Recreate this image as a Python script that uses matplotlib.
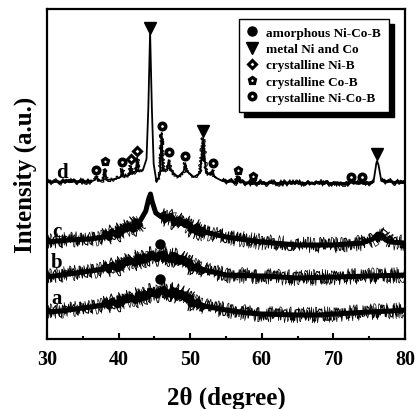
import matplotlib
matplotlib.use("Agg")
import matplotlib.pyplot as plt

# --- data (2theta in degree, intensity in a.u. with offsets) ---
a_x = [30, 32, 35, 38, 40, 42, 44, 46, 47.5, 49, 50, 52, 55, 58, 60, 65, 68, 70, 75, 78, 80]
a_y = [27, 28, 31, 34, 37, 40, 45, 47, 47, 43, 38, 33, 29, 26, 25, 24, 24, 25, 27, 28, 29]

b_x = [30, 35, 38, 40, 42, 44, 46, 48, 50, 52, 55, 60, 65, 70, 75, 80]
b_y = [62, 67, 70, 73, 78, 82, 83, 81, 74, 69, 64, 63, 61, 62, 63, 64]

c_x = [30, 33, 36, 38, 40, 42, 43, 43.8, 44.2, 44.45, 44.7, 45.2, 46, 47.5, 49, 50, 52, 55,
       60, 65, 70, 74, 75.5, 76.2, 76.8, 77.3, 78, 80]
c_y = [97, 99, 100, 102, 107, 112, 118, 128, 140, 145, 137, 126, 122, 120, 115, 112, 107, 102,
       97, 94, 94, 96, 100, 105, 104, 99, 97, 96]

d_x = [30, 36.3, 36.7, 36.9, 37.1, 37.9, 38.1, 38.3, 39.5, 40.3, 40.5, 40.7, 41.5, 41.7, 41.9,
       42.4, 42.6, 42.8, 43.4, 43.9, 44.15, 44.4, 44.65, 44.9, 45.3, 45.8, 46.0, 46.2, 46.8, 47.0,
       47.2, 48.3, 49.1, 49.3, 49.5, 50.5, 51.4, 51.8, 52.2, 52.9, 53.1, 53.4, 54.5, 56.5, 56.7,
       56.9, 58.6, 58.75, 58.9, 65, 72.3, 72.5, 72.7, 73.8, 74.0, 74.2, 75.6, 76.0, 76.1, 76.3,
       76.7, 80]
d_y = [157, 158, 159, 163, 158, 159, 170, 159, 160, 162, 170, 163, 164, 173, 165,
       168, 181, 168, 169, 180, 230, 307, 230, 175, 157, 165, 206, 168, 170, 179,
       169, 162, 168, 176, 168, 162, 166, 201, 166, 164, 169, 162, 158, 157, 162,
       157, 156, 158, 156, 156, 156, 158, 156, 156, 158, 156, 157, 176, 178, 174,
       158, 156]

# phase markers (x, y)
metal_x = [44.4, 51.8, 76.1]
metal_y = [311, 208, 185]
nicob_x = [36.9, 40.5, 46.1, 47.05, 49.3, 53.15, 72.5, 74.0]
nicob_y = [169, 177, 213, 187, 183, 176, 162, 162]
cob_x = [38.15, 56.7, 58.75]
cob_y = [178, 169, 163]
nib_x = [41.75, 42.6]
nib_y = [180, 188]
amor_x = [45.8, 45.8]
amor_y = [95, 60]

curve_labels = ['a', 'b', 'c', 'd']
label_x = [31.4, 31.4, 31.4, 32.1]
label_y = [41, 77, 108, 167]

xticks = [30, 40, 50, 60, 70, 80]

plt.rcParams['font.family'] = ['Liberation Serif', 'DejaVu Serif']
plt.rcParams['font.weight'] = 'bold'

fig = plt.figure(figsize=(4.18, 4.10), dpi=100)
ax = fig.add_axes([0.1124, 0.1707, 0.8565, 0.8049])


def noisy(xs, ys, lo, hi, scale, lw, length=0.5, rand=3):
    # jitter is only a drawing style (sketch filter) on the traced curve
    sx = [x for x in xs if lo <= x <= hi]
    sy = [y for x, y in zip(xs, ys) if lo <= x <= hi]
    ln, = ax.plot(sx, sy, color='black', lw=lw, solid_capstyle='butt')
    ln.set_sketch_params(scale=scale, length=length, randomness=rand)


# amorphous-like traces a, b, c; the sharp c reflection is kept clean
for xs, ys, gaps in [(a_x, a_y, [(30, 80)]), (b_x, b_y, [(30, 80)]),
                     (c_x, c_y, [(30, 43.6), (45.3, 80)])]:
    ax.plot(xs, ys, color='black', lw=3.6, solid_joinstyle='round')
    for lo, hi in gaps:
        noisy(xs, ys, max(lo, 37), min(hi, 54), 3.0, 4.0)
        noisy(xs, ys, lo, hi, 6.0, 0.8)
        noisy(xs, ys, lo, hi, 8.0, 0.5, 0.7, 4)
        noisy(xs, ys, max(lo, 38), min(hi, 53), 10.0, 0.7)

# crystalline sample: clean peaks, noisy baseline
ax.plot(d_x, d_y, color='black', lw=1.3)
for lo, hi in [(30, 36.5), (53.5, 75.6), (76.7, 80)]:
    noisy(d_x, d_y, lo, hi, 1.2, 2.2)
    noisy(d_x, d_y, lo, hi, 3.5, 0.6)
noisy(d_x, d_y, 36.5, 43.5, 2.0, 0.8)
noisy(d_x, d_y, 45.3, 53.5, 2.0, 0.8)

ax.plot(amor_x, amor_y, 'o', color='black', ms=6.5, ls='none', label='amorphous Ni-Co-B')
ax.plot(metal_x, metal_y, 'v', color='black', ms=8, ls='none', label='metal Ni and Co')
ax.plot(nib_x, nib_y, 'D', mfc='white', mec='black', mew=2.2, ms=3.8, ls='none',
        label='crystalline Ni-B')
ax.plot(cob_x, cob_y, 'p', mfc='white', mec='black', mew=2.3, ms=4.5, ls='none',
        label='crystalline Co-B')
ax.plot(nicob_x, nicob_y, 'o', mfc='white', mec='black', mew=2.6, ms=4.6, ls='none',
        label='crystalline Ni-Co-B')

for t, lx, ly in zip(curve_labels, label_x, label_y):
    ax.text(lx, ly, t, fontsize=15, fontweight='bold', ha='center', va='center')

leg = ax.legend(loc='upper right', bbox_to_anchor=(0.955, 0.97), fontsize=9.5,
                frameon=True, fancybox=False, edgecolor='black', framealpha=1,
                shadow={'ox': 4, 'oy': -4, 'facecolor': 'black', 'edgecolor': 'black', 'alpha': 1},
                handlelength=0.8, handletextpad=0.7, labelspacing=0.3, borderpad=0.6,
                borderaxespad=0)
leg.get_frame().set_linewidth(1.0)
for txt in leg.get_texts():
    txt.set_fontweight('bold')

ax.set_xlim(30, 80)
ax.set_ylim(0, 330)
ax.set_xticks(xticks)
ax.set_xticks([35, 45, 55, 65, 75], minor=True)
ax.set_yticks([])
ax.tick_params(axis='x', which='major', direction='in', length=4.5, width=1.5,
               labelsize=14.5, pad=7, top=False)
ax.tick_params(axis='x', which='minor', direction='in', length=2.5, width=1.5, top=False)
for lab in ax.get_xticklabels():
    lab.set_fontweight('bold')
for s in ax.spines.values():
    s.set_linewidth(1.6)

ax.set_xlabel('2θ (degree)', fontsize=18, fontweight='bold', labelpad=12)
ax.set_ylabel('Intensity (a.u.)', fontsize=18, fontweight='bold', labelpad=7)

fig.savefig('out.png', dpi=100)
